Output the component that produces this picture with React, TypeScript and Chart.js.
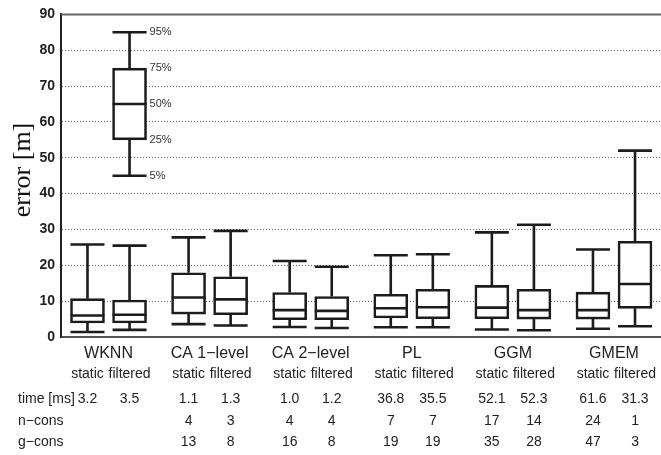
import React, { useEffect, useRef } from "react";
import { Chart, registerables } from "chart.js";

Chart.register(...registerables);

// ---- data ----
const categories = ["WKNN", "CA 1−level", "CA 2−level", "PL", "GGM", "GMEM"];
const variants = ["static", "filtered"];

// box statistics: [lower whisker, q1, median, q3, upper whisker]
const staticLow = [1.4, 3.6, 2.8, 2.7, 2.1, 2.3];
const staticQ1 = [3.9, 6.4, 4.8, 5.3, 5.1, 5.0];
const staticMed = [6.0, 11.0, 7.5, 8.0, 8.2, 7.5];
const staticQ3 = [10.7, 17.9, 12.4, 11.9, 14.4, 12.5];
const staticHigh = [25.8, 27.8, 21.2, 22.8, 29.2, 24.4];

const filteredLow = [2.0, 3.2, 2.5, 2.7, 1.9, 3.0];
const filteredQ1 = [3.9, 6.2, 4.8, 5.1, 5.0, 8.0];
const filteredMed = [6.2, 10.5, 7.3, 8.3, 7.5, 14.8];
const filteredQ3 = [10.3, 16.8, 11.3, 13.3, 13.3, 26.7];
const filteredHigh = [25.5, 29.6, 19.6, 23.1, 31.3, 52.0];

// legend example box (percentiles)
const exampleValues = [45, 55, 65, 75, 85];
const exampleLabels = ["5%", "25%", "50%", "75%", "95%"];

// table rows under the chart
const rowLabels = ["time [ms]", "n−cons", "g−cons"];
const timeStatic = ["3.2", "1.1", "1.0", "36.8", "52.1", "61.6"];
const timeFiltered = ["3.5", "1.3", "1.2", "35.5", "52.3", "31.3"];
const nconsStatic = ["", "4", "4", "7", "17", "24"];
const nconsFiltered = ["", "3", "4", "7", "14", "1"];
const gconsStatic = ["", "13", "16", "19", "35", "47"];
const gconsFiltered = ["", "8", "8", "19", "28", "3"];

const yTicks = [0, 10, 20, 30, 40, 50, 60, 70, 80, 90];

const OFFSET = 0.208;
const BOX_W = 34;
const INK = "#1c1c1c";
const TEXT = "#222";
const SANS = "'Liberation Sans', Arial, Helvetica, sans-serif";

type Box = { x: number; low: number; q1: number; med: number; q3: number; high: number };

const boxes: Box[] = [];
categories.forEach((_, i) => {
  boxes.push({ x: i + 1 - OFFSET, low: staticLow[i], q1: staticQ1[i], med: staticMed[i], q3: staticQ3[i], high: staticHigh[i] });
  boxes.push({ x: i + 1 + OFFSET, low: filteredLow[i], q1: filteredQ1[i], med: filteredMed[i], q3: filteredQ3[i], high: filteredHigh[i] });
});
const example: Box = {
  x: 1 + OFFSET,
  low: exampleValues[0],
  q1: exampleValues[1],
  med: exampleValues[2],
  q3: exampleValues[3],
  high: exampleValues[4],
};
const allBoxes = [...boxes, example];

const whiskerPlugin = {
  id: "whiskers",
  afterDatasetsDraw(chart: any) {
    const { ctx, scales } = chart;
    const xs = scales.x;
    const ys = scales.y;
    ctx.save();
    ctx.strokeStyle = INK;
    ctx.lineWidth = 2.6;
    ctx.lineCap = "butt";
    allBoxes.forEach((b) => {
      const cx = xs.getPixelForValue(b.x);
      const yl = ys.getPixelForValue(b.low);
      const y1 = ys.getPixelForValue(b.q1);
      const ym = ys.getPixelForValue(b.med);
      const y3 = ys.getPixelForValue(b.q3);
      const yh = ys.getPixelForValue(b.high);
      ctx.beginPath();
      ctx.moveTo(cx, y3);
      ctx.lineTo(cx, yh);
      ctx.moveTo(cx, y1);
      ctx.lineTo(cx, yl);
      ctx.moveTo(cx - BOX_W / 2, yh);
      ctx.lineTo(cx + BOX_W / 2, yh);
      ctx.moveTo(cx - BOX_W / 2, yl);
      ctx.lineTo(cx + BOX_W / 2, yl);
      ctx.moveTo(cx - BOX_W / 2, ym);
      ctx.lineTo(cx + BOX_W / 2, ym);
      ctx.stroke();
    });
    // percentile labels of the example box
    ctx.fillStyle = "#333";
    ctx.font = `11px ${SANS}`;
    ctx.textAlign = "left";
    ctx.textBaseline = "middle";
    const ex = xs.getPixelForValue(example.x) + BOX_W / 2 + 3;
    exampleValues.forEach((v, i) => {
      ctx.fillText(exampleLabels[i], ex, ys.getPixelForValue(v));
    });
    ctx.restore();
  },
};

const textPlugin = {
  id: "tableText",
  afterDraw(chart: any) {
    const { ctx, scales, chartArea } = chart;
    const xs = scales.x;
    ctx.save();
    // top border
    ctx.strokeStyle = "#666";
    ctx.lineWidth = 2;
    ctx.beginPath();
    ctx.moveTo(chartArea.left, chartArea.top);
    ctx.lineTo(chartArea.right, chartArea.top);
    ctx.stroke();

    ctx.fillStyle = TEXT;
    ctx.textBaseline = "middle";
    ctx.textAlign = "center";
    // group names
    ctx.font = `16px ${SANS}`;
    categories.forEach((c, i) => {
      ctx.fillText(c, xs.getPixelForValue(i + 1), 354);
    });
    // variant labels
    ctx.font = `14px ${SANS}`;
    categories.forEach((_, i) => {
      ctx.fillText(variants[0], xs.getPixelForValue(i + 1 - OFFSET), 374);
      ctx.fillText(variants[1], xs.getPixelForValue(i + 1 + OFFSET), 374);
    });
    // rows
    const rows = [
      [timeStatic, timeFiltered],
      [nconsStatic, nconsFiltered],
      [gconsStatic, gconsFiltered],
    ];
    const rowY = [399, 421, 442];
    rows.forEach((r, ri) => {
      ctx.textAlign = "left";
      ctx.fillText(rowLabels[ri], 18, rowY[ri]);
      ctx.textAlign = "center";
      categories.forEach((_, i) => {
        ctx.fillText(r[0][i], xs.getPixelForValue(i + 1 - OFFSET), rowY[ri]);
        ctx.fillText(r[1][i], xs.getPixelForValue(i + 1 + OFFSET), rowY[ri]);
      });
    });
    // y title
    ctx.save();
    ctx.translate(23, 170);
    ctx.rotate(-Math.PI / 2);
    ctx.font = `26px 'Liberation Serif', 'Times New Roman', serif`;
    ctx.fillStyle = "#111";
    ctx.textAlign = "center";
    ctx.textBaseline = "middle";
    ctx.fillText("error [m]", 0, 0);
    ctx.restore();
    ctx.restore();
  },
};

export default function App() {
  const ref = useRef<HTMLCanvasElement | null>(null);
  useEffect(() => {
    if (!ref.current) return;
    const chart = new Chart(ref.current, {
      type: "bar",
      data: {
        datasets: [
          {
            data: allBoxes.map((b) => ({ x: b.x, y: [b.q1, b.q3] })) as any,
            backgroundColor: "#ffffff",
            borderColor: INK,
            borderWidth: 2.6,
            borderSkipped: false,
            barThickness: BOX_W,
            grouped: false,
          } as any,
        ],
      },
      options: {
        animation: false,
        responsive: false,
        layout: { padding: { top: 13, right: 0, left: 0, bottom: 0 } },
        plugins: { legend: { display: false }, tooltip: { enabled: false } },
        scales: {
          x: {
            type: "linear",
            min: 0.53,
            max: 6.465,
            offset: false,
            ticks: { display: false },
            grid: { display: false },
            border: { display: true, color: "#555", width: 2 },
            afterFit: (s: any) => {
              s.height = 118;
            },
          },
          y: {
            type: "linear",
            min: 0,
            max: 90,
            afterBuildTicks: (s: any) => {
              s.ticks = yTicks.map((v) => ({ value: v }));
            },
            ticks: {
              padding: 6,
              color: TEXT,
              font: { family: SANS, size: 14, weight: "bold" },
            },
            grid: {
              drawTicks: false,
              color: (c: any) => (c.tick && (c.tick.value === 0 || c.tick.value === 90) ? "rgba(0,0,0,0)" : "#666"),
              lineWidth: 1,
            },
            border: { display: true, color: "#222", width: 2, dash: [1, 2] as any },
            afterFit: (s: any) => {
              s.width = 61;
            },
          } as any,
        },
      },
      plugins: [whiskerPlugin, textPlugin],
    });
    return () => chart.destroy();
  }, []);
  return (
    <div style={{ position: "absolute", left: 0, top: 0, width: 661, height: 455, background: "#fff" }}>
      <canvas ref={ref} width={661} height={455} style={{ display: "block" }} />
    </div>
  );
}
